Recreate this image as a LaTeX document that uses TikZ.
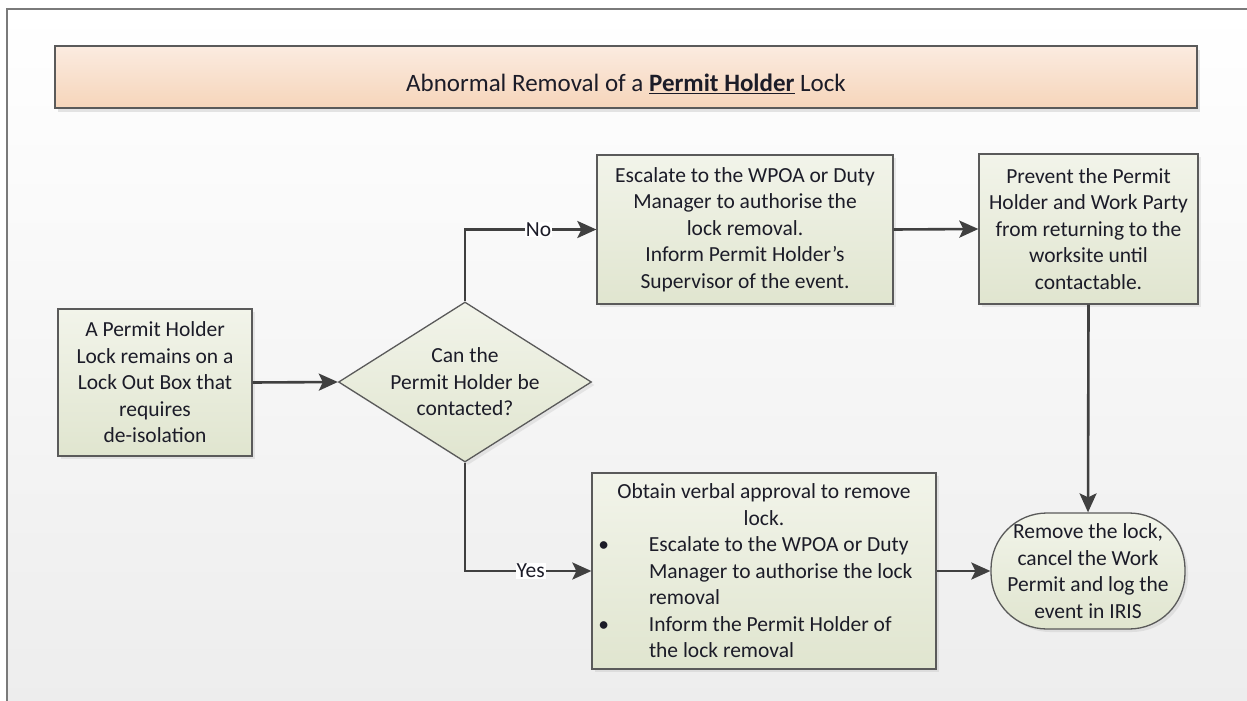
\documentclass[tikz,border=0pt]{standalone}
\usepackage{fontspec}
\setmainfont{Carlito}
\usetikzlibrary{shapes.geometric,arrows.meta,shadows}
\definecolor{edgec}{HTML}{404040}
\definecolor{boxtop}{HTML}{F2F4EA}
\definecolor{boxbot}{HTML}{E0E5CF}
\definecolor{titletop}{HTML}{FBEBE0}
\definecolor{titlebot}{HTML}{F6D5BA}
\definecolor{framec}{HTML}{7A7A7A}
\definecolor{bordc}{HTML}{5A5A5A}
\definecolor{txt}{HTML}{1C1C28}
\begin{document}
\begin{tikzpicture}[x=1pt,y=-1pt,
  every node/.style={text=txt},
  body/.style={font=\fontsize{21.5}{26.5}\selectfont},
  shad/.style={drop shadow={opacity=0.15, shadow xshift=3pt, shadow yshift=-3pt}},
  stepbox/.style={draw=bordc, line width=1.3pt, top color=boxtop, bottom color=boxbot,
     inner sep=0pt, align=center, body, shad},
  decbox/.style={diamond, draw=bordc, line width=1.3pt, top color=boxtop, bottom color=boxbot,
     inner sep=0pt, shad},
  termbox/.style={stepbox, rounded corners=56pt},
  titlebox/.style={draw=bordc, line width=1.6pt, top color=titletop, bottom color=titlebot,
     inner sep=0pt, drop shadow={opacity=0.2, shadow xshift=3pt, shadow yshift=-4pt}},
  titletxt/.style={font=\fontsize{25}{28}\selectfont},
  conn/.style={draw=edgec, line width=2.6pt, -{Stealth[length=19pt,width=17pt,inset=4pt]}},
  lab/.style={fill=white, inner sep=1pt, body}
]
\useasboundingbox (0,0) rectangle (1247,701);
\fill[white] (0,0) rectangle (1247,701);
\shade[top color=white, bottom color=black!7] (7,9) rectangle (1247,701);
\draw[framec, line width=2pt] (7,701) -- (7,9) -- (1247,9);

\node[titlebox, minimum width=1142pt, minimum height=62pt] (title) at (626,77) {};
\node[titletxt] (titletext) at (626,84)
  {Abnormal Removal of a \textbf{\underline{Permit Holder}} Lock};

\node[stepbox, minimum width=194pt, minimum height=147pt] (lock) at (155,382.5)
  {A Permit Holder\\Lock remains on a\\Lock Out Box that\\requires\\de-isolation};

\node[decbox, minimum width=253pt, minimum height=160pt] (q) at (465,382) {};
\node[body, align=center] (qtext) at (q.center) {Can the\\Permit Holder be\\contacted?};

\node[stepbox, minimum width=296pt, minimum height=149pt] (esc) at (745,229.5)
  {Escalate to the WPOA or Duty\\Manager to authorise the\\lock removal.\\Inform Permit Holder's\\Supervisor of the event.};

\node[stepbox, minimum width=219pt, minimum height=150pt] (prev) at (1088.5,229)
  {Prevent the Permit\\Holder and Work Party\\from returning to the\\worksite until\\contactable.};

\node[stepbox, minimum width=344pt, minimum height=196pt] (obtain) at (764,571)
  {\begin{minipage}{330pt}\centering Obtain verbal approval to remove\\lock.\par
   \raggedright\leftskip=50pt
   \leavevmode\llap{\textbullet\hspace{40pt}}Escalate to the WPOA or Duty\\Manager to authorise the lock\\removal\par
   \leavevmode\llap{\textbullet\hspace{40pt}}Inform the Permit Holder of\\the lock removal\par
   \end{minipage}};

\node[termbox, minimum width=194pt, minimum height=116pt] (rem) at (1088,571)
  {Remove the lock,\\cancel the Work\\Permit and log the\\event in IRIS};

\draw[conn] (lock.east) -- (q.west);
\draw[conn] (q.north) |- node[lab, pos=0.78] (no) {No} (esc.west);
\draw[conn] (q.south) |- node[lab, pos=0.76] (yes) {Yes} (obtain.west);
\draw[conn] (esc.east) -- (prev.west);
\draw[conn] (prev.south) -- (rem.north);
\draw[conn] (obtain.east) -- (rem.west);
\end{tikzpicture}
\end{document}
